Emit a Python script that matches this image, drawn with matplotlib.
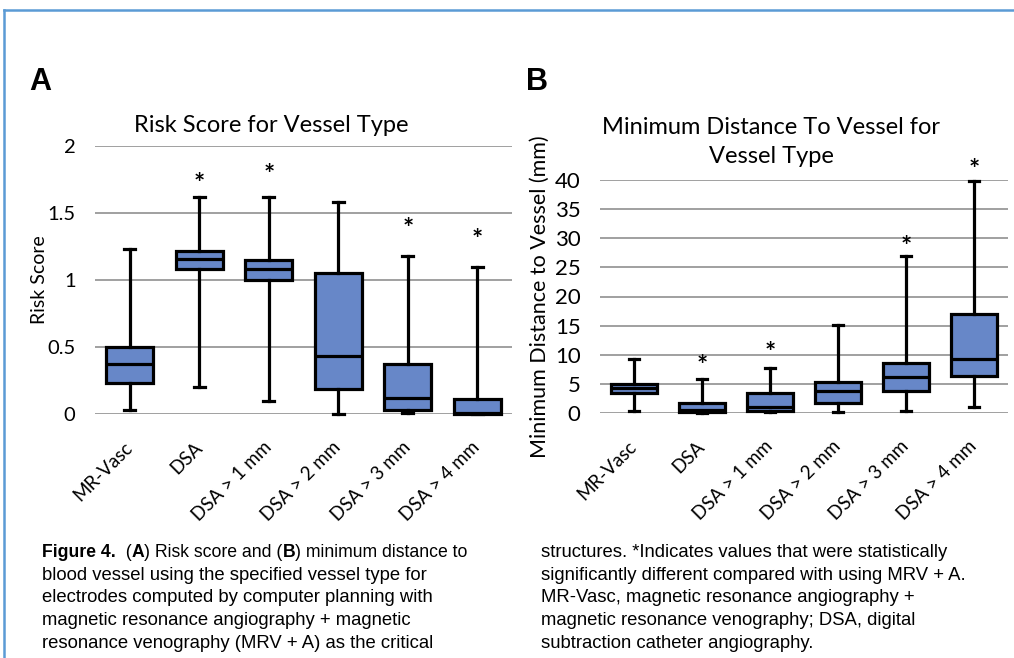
import matplotlib
matplotlib.use("Agg")
import matplotlib.pyplot as plt
from matplotlib.lines import Line2D
from matplotlib import font_manager

# ------------------------------------------------------------
# Data
# ------------------------------------------------------------

categories = ["MR-Vasc", "DSA", "DSA > 1 mm", "DSA > 2 mm", "DSA > 3 mm", "DSA > 4 mm"]

# Panel A: risk score
risk_low = [0.03, 0.20, 0.10, 0.00, 0.01, 0.00]
risk_q1 = [0.23, 1.08, 1.00, 0.19, 0.03, 0.00]
risk_med = [0.37, 1.16, 1.08, 0.43, 0.12, 0.005]
risk_q3 = [0.50, 1.22, 1.15, 1.05, 0.37, 0.11]
risk_high = [1.23, 1.62, 1.62, 1.58, 1.18, 1.10]
risk_star = [None, 1.72, 1.78, None, 1.38, 1.30]

# Panel B: minimum distance to vessel (mm)
dist_low = [0.3, 0.0, 0.1, 0.1, 0.4, 1.0]
dist_q1 = [3.4, 0.1, 0.3, 1.7, 3.7, 6.4]
dist_med = [4.3, 0.45, 1.1, 3.8, 6.1, 9.3]
dist_q3 = [5.0, 1.7, 3.4, 5.3, 8.6, 17.0]
dist_high = [9.3, 5.8, 7.7, 15.1, 26.9, 39.9]
dist_star = [None, 8.1, 10.3, None, 28.5, 41.8]

risk_ticks = [0, 0.5, 1, 1.5, 2]
risk_ticklabels = ["0", "0.5", "1", "1.5", "2"]
dist_ticks = [0, 5, 10, 15, 20, 25, 30, 35, 40]

BOX_COLOR = "#6787c8"
GRID_COLOR = "#a0a0a0"
FRAME_COLOR = "#5b9bd5"

CHART_FONT = ["Lato", "DejaVu Sans"]

available = {f.name for f in font_manager.fontManager.ttflist}
CAPTION_FONT = ["Liberation Sans Narrow", "Liberation Sans"] \
    if "Liberation Sans Narrow" in available else ["Liberation Sans"]


# ------------------------------------------------------------
# Box plot panel
# ------------------------------------------------------------

def draw_panel(ax, low, q1, med, q3, high, stars, ticks, ticklabels,
               ylabel, ylim, tick_size, label_size):

    stats = []
    for i, name in enumerate(categories):
        stats.append({
            "label": name,
            "whislo": low[i],
            "q1": q1[i],
            "med": med[i],
            "q3": q3[i],
            "whishi": high[i],
            "fliers": [],
        })

    ax.bxp(
        stats,
        positions=range(len(categories)),
        widths=0.67,
        patch_artist=True,
        showfliers=False,
        boxprops=dict(facecolor=BOX_COLOR, edgecolor="black", linewidth=2.3),
        medianprops=dict(color="black", linewidth=2.3),
        whiskerprops=dict(color="black", linewidth=2.3),
        capprops=dict(color="black", linewidth=2.3),
        capwidths=0.16,
        zorder=3,
    )

    for artist in ax.lines + ax.patches:
        artist.set_clip_on(False)

    for i, s in enumerate(stars):
        if s is not None:
            ax.text(i, s, "*", ha="center", va="center",
                    fontsize=19, fontweight="bold", family=CHART_FONT)

    ax.set_xlim(-0.5, len(categories) - 0.5)
    ax.set_ylim(*ylim)
    ax.set_yticks(ticks)
    ax.set_yticklabels(ticklabels, fontsize=tick_size, family=CHART_FONT)
    ax.set_xticks(range(len(categories)))
    ax.set_xticklabels(categories, fontsize=13.5, family=CHART_FONT,
                       rotation=45, ha="right", va="center",
                       rotation_mode="anchor")

    ax.tick_params(axis="both", length=0)
    ax.tick_params(axis="y", pad=14)
    ax.tick_params(axis="x", pad=22)

    for sp in ax.spines.values():
        sp.set_visible(False)

    ax.grid(axis="y", color=GRID_COLOR, linewidth=1.4, zorder=0)
    ax.set_axisbelow(True)

    ax.set_ylabel(ylabel, fontsize=label_size, family=CHART_FONT)


# ------------------------------------------------------------
# Mixed bold / regular caption line
# ------------------------------------------------------------

def caption_line(fig, x, y, parts, size=13.3):

    renderer = fig.canvas.get_renderer()
    cur = x
    for txt, bold in parts:
        t = fig.text(cur, y, txt, fontsize=size, family=CAPTION_FONT,
                     fontweight="bold" if bold else "normal",
                     ha="left", va="baseline")
        bb = t.get_window_extent(renderer=renderer)
        cur += bb.width / fig.bbox.width


# ------------------------------------------------------------
# Figure
# ------------------------------------------------------------

fig = plt.figure(figsize=(10.14, 6.58), dpi=100)

W, H = 1014.0, 658.0

ax_a = fig.add_axes([95 / W, 1 - 414 / H, 417 / W, 268 / H])
ax_b = fig.add_axes([600 / W, 1 - 413 / H, 408 / W, 233 / H])

draw_panel(ax_a, risk_low, risk_q1, risk_med, risk_q3, risk_high, risk_star,
           risk_ticks, risk_ticklabels, "Risk Score", (0, 2), 14.5, 14)
draw_panel(ax_b, dist_low, dist_q1, dist_med, dist_q3, dist_high, dist_star,
           dist_ticks, [str(t) for t in dist_ticks],
           "Minimum Distance to Vessel (mm)", (0, 40), 16, 15.5)

ax_a.yaxis.set_label_coords(-0.113, 0.5)
ax_b.yaxis.set_label_coords(-0.123, 0.5)

fig.text(271 / W, 1 - 125 / H, "Risk Score for Vessel Type",
         fontsize=17, family=CHART_FONT, ha="center", va="center")
fig.text(771 / W, 1 - 142 / H, "Minimum Distance To Vessel for\nVessel Type",
         fontsize=17, family=CHART_FONT, ha="center", va="center",
         linespacing=1.5)

fig.text(29 / W, 1 - 82 / H, "A", fontsize=22, fontweight="bold",
         family="Liberation Sans", ha="left", va="center")
fig.text(526 / W, 1 - 82 / H, "B", fontsize=22, fontweight="bold",
         family="Liberation Sans", ha="left", va="center")

# Frame
fig.add_artist(Line2D([4 / W, 1.0], [1 - 10 / H, 1 - 10 / H],
                      transform=fig.transFigure, color=FRAME_COLOR, linewidth=1.8))
fig.add_artist(Line2D([4 / W, 4 / W], [1 - 10 / H, 0.0],
                      transform=fig.transFigure, color=FRAME_COLOR, linewidth=1.8))

# Caption
left_lines = [
    [("Figure 4.", True), ("  (", False), ("A", True), (") Risk score and (", False),
     ("B", True), (") minimum distance to", False)],
    [("blood vessel using the specified vessel type for", False)],
    [("electrodes computed by computer planning with", False)],
    [("magnetic resonance angiography + magnetic", False)],
    [("resonance venography (MRV + A) as the critical", False)],
]
right_lines = [
    [("structures. *Indicates values that were statistically", False)],
    [("significantly different compared with using MRV + A.", False)],
    [("MR-Vasc, magnetic resonance angiography +", False)],
    [("magnetic resonance venography; DSA, digital", False)],
    [("subtraction catheter angiography.", False)],
]

for k, parts in enumerate(left_lines):
    caption_line(fig, 42 / W, 1 - (557 + 22.7 * k) / H, parts,
                 size=12.7 if k == 0 else 13.3)
for k, parts in enumerate(right_lines):
    caption_line(fig, 541 / W, 1 - (557 + 22.7 * k) / H, parts)

fig.savefig("out.png", dpi=100)
